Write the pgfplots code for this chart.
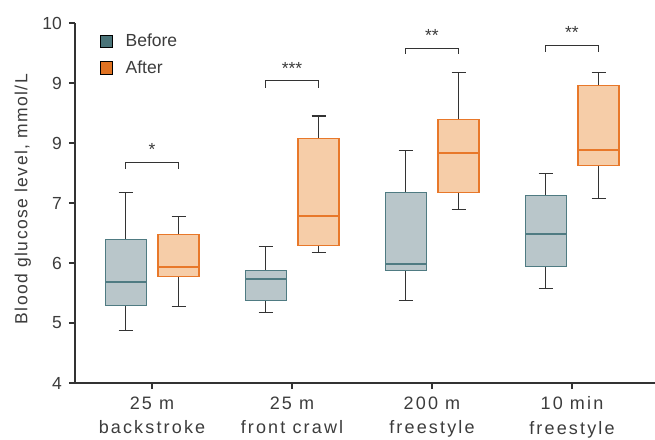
\documentclass[border=0pt]{standalone}
\usepackage{pgfplots}
\pgfplotsset{compat=1.18}
\usepackage{fontspec}
\setmainfont{Liberation Sans}
\newfontfamily\wide{Liberation Sans}[LetterSpace=12]
\newfontfamily\wideY{Liberation Sans}[LetterSpace=8]
\definecolor{txt}{HTML}{3C3C3C}
\definecolor{axc}{HTML}{333333}
\definecolor{bedge}{HTML}{4F7B82}
\definecolor{bfill}{HTML}{B9C6CA}
\definecolor{blegend}{HTML}{4A7479}
\definecolor{aedge}{HTML}{E8782A}
\definecolor{afill}{HTML}{F6CDA8}
\definecolor{alegend}{HTML}{E07222}
\newcommand{\fs}{\fontsize{17.5}{21}\selectfont}
\newcommand{\fx}{\wide\fontsize{18}{24.8}\selectfont}
% #1 position, #2 lower whisker, #3 lower quartile, #4 median, #5 upper quartile, #6 upper whisker, #7 edge colour, #8 fill colour
\newcommand{\bx}[8]{%
  \pgfmathsetmacro\bxL{#1-0.1465}\pgfmathsetmacro\bxR{#1+0.1465}%
  \pgfmathsetmacro\bcL{#1-0.05}\pgfmathsetmacro\bcR{#1+0.05}%
  \addplot[forget plot, axc, line width=1.3pt] coordinates {(#1,#3) (#1,#2)};
  \addplot[forget plot, axc, line width=1.3pt] coordinates {(\bcL,#2) (\bcR,#2)};
  \addplot[forget plot, axc, line width=1.3pt] coordinates {(#1,#5) (#1,#6)};
  \addplot[forget plot, axc, line width=1.3pt] coordinates {(\bcL,#6) (\bcR,#6)};
  \addplot[forget plot, draw=#7, fill=#8, line width=1.3pt] coordinates {(\bxL,#3) (\bxR,#3) (\bxR,#5) (\bxL,#5)} -- cycle;
  \addplot[forget plot, draw=#7, line width=2pt] coordinates {(\bxL,#4) (\bxR,#4)};
}
\begin{document}
\begin{tikzpicture}
\path[use as bounding box] (-75pt,-56pt) rectangle (580pt,383pt);
\begin{axis}[
  at={(0,0)}, anchor=south west,
  scale only axis, width=580pt, height=360pt,
  xmin=-0.55, xmax=3.593, ymin=4, ymax=10,
  axis x line*=bottom, axis y line*=left,
  axis line style={-, draw=axc, line width=1.1pt},
  xtick={0,1,2,3},
  xticklabels={{25 m\\backstroke},{25 m\\front crawl},{200 m\\freestyle},{10 min\\freestyle}},
  ytick={4,5,6,7,8,9,10}, yticklabels={4,5,6,7,9,9,10},
  tick align=outside, major tick length=6pt,
  tick style={draw=axc, line width=1.1pt},
  yticklabel style={font=\fs, text=txt, xshift=-3.5pt},
  xticklabel style={font=\fx, text=txt, align=center, yshift=-4pt},
  ylabel={Blood glucose level, mmol/L},
  ylabel style={at={(axis description cs:-0.0822,0.511)}, anchor=base, font=\wideY\fontsize{17.5}{21}\selectfont, text=txt},
  clip=false,
  legend image code/.code={\fill[#1] (0pt,-6.35pt) rectangle (12.7pt,6.35pt);},
  legend cell align=left,
  legend style={at={(axis description cs:0.042,0.975)}, anchor=north west,
    draw=none, fill=none, inner sep=0pt, row sep=8pt, font=\fs, text=txt,
    /tikz/every odd column/.append style={column sep=11pt}},
]
\addlegendimage{fill=blegend}
\addlegendentry{Before}
\addlegendimage{fill=alegend}
\addlegendentry{After}

% 25 m backstroke
\bx{-0.188}{4.88}{5.29}{5.68}{6.39}{7.18}{bedge}{bfill}
\bx{0.19}{5.28}{5.78}{5.94}{6.48}{6.78}{aedge}{afill}
% 25 m front crawl
\bx{0.812}{5.18}{5.38}{5.74}{5.88}{6.28}{bedge}{bfill}
\bx{1.19}{6.18}{6.29}{6.78}{8.08}{8.45}{aedge}{afill}
% 200 m freestyle
\bx{1.812}{5.38}{5.88}{5.98}{7.18}{7.88}{bedge}{bfill}
\bx{2.19}{6.89}{7.18}{7.83}{8.39}{9.18}{aedge}{afill}
% 10 min freestyle
\bx{2.812}{5.57}{5.94}{6.49}{7.13}{7.49}{bedge}{bfill}
\bx{3.19}{7.08}{7.62}{7.88}{8.96}{9.18}{aedge}{afill}

% significance brackets
\addplot[axc, line width=1.1pt, forget plot] coordinates {(-0.188,7.57) (-0.188,7.67) (0.19,7.67) (0.19,7.57)};
\addplot[axc, line width=1.1pt, forget plot] coordinates {(0.812,8.92) (0.812,9.04) (1.19,9.04) (1.19,8.92)};
\addplot[axc, line width=1.1pt, forget plot] coordinates {(1.812,9.49) (1.812,9.58) (2.19,9.58) (2.19,9.49)};
\addplot[axc, line width=1.1pt, forget plot] coordinates {(2.812,9.52) (2.812,9.62) (3.19,9.62) (3.19,9.52)};
\node[anchor=base, font=\fs, text=txt] at (axis cs:0,7.80) {*};
\node[anchor=base, font=\fs, text=txt] at (axis cs:1,9.14) {***};
\node[anchor=base, font=\fs, text=txt] at (axis cs:2,9.69) {**};
\node[anchor=base, font=\fs, text=txt] at (axis cs:3,9.74) {**};
\end{axis}
\end{tikzpicture}
\end{document}
